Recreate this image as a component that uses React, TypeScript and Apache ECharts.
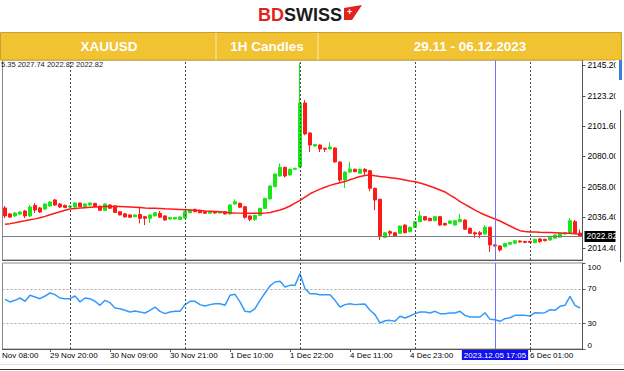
import React, { useEffect, useRef } from "react";
import * as echarts from "echarts";

// Trading sessions (hourly bars, the 00:00 bar is the daily break)
const sessions = [
  { day: "29 Nov", from: 11, to: 23 },
  { day: "30 Nov", from: 1, to: 23 },
  { day: "1 Dec", from: 1, to: 23 },
  { day: "4 Dec", from: 1, to: 23 },
  { day: "5 Dec", from: 1, to: 23 },
  { day: "6 Dec", from: 1, to: 11 },
];
const categories: string[] = [];
sessions.forEach((s) => {
  for (let h = s.from; h <= s.to; h++) categories.push(`${s.day} ${h < 10 ? "0" + h : h}:00`);
});

const timeLabelIdx = [9, 21, 33, 45, 57, 69, 81, 105];
const daySeparatorIdx = [13, 36, 59, 82, 105];
const crosshairIdx = 98;
const crosshairLabel = "2023.12.05 17:05";
const visibleFirstLabel = "Nov 08:00";
const infoText = "5.35 2027.74 2022.82 2022.82";

const priceTicks = [2014.4, 2036.4, 2058.0, 2080.0, 2101.6, 2123.2, 2145.2];
const rsiTicks = [0, 30, 70, 100];
const rsiLevels = [70, 30];
const lastPrice = 2022.82;

// [open, close, low, high]
const candles: number[][] = [
  [2043.2, 2037.5, 2036.0, 2044.6], [2038.9, 2036.7, 2036.0, 2039.6], [2037.5, 2039.6, 2036.7, 2040.3],
  [2038.9, 2040.3, 2038.2, 2041.0], [2041.0, 2037.5, 2036.0, 2041.7], [2037.5, 2043.9, 2036.7, 2045.3],
  [2045.0, 2041.7, 2039.6, 2046.7], [2043.2, 2040.3, 2039.6, 2043.9], [2042.4, 2046.0, 2041.7, 2046.7],
  [2044.6, 2047.4, 2044.0, 2048.2], [2048.9, 2045.3, 2044.6, 2049.6], [2046.0, 2043.9, 2043.2, 2046.7],
  [2045.0, 2043.6, 2043.2, 2045.6], [2043.9, 2044.6, 2043.4, 2045.3], [2043.9, 2046.7, 2043.5, 2047.4],
  [2046.7, 2044.2, 2043.9, 2047.0], [2044.2, 2046.0, 2043.9, 2046.7], [2045.3, 2046.7, 2044.9, 2047.2],
  [2046.4, 2044.2, 2043.9, 2046.9], [2044.4, 2041.5, 2041.0, 2044.9], [2041.5, 2046.0, 2041.0, 2046.5],
  [2045.3, 2043.0, 2042.6, 2045.8], [2044.6, 2040.0, 2039.6, 2045.0], [2040.5, 2038.2, 2037.9, 2041.0],
  [2039.0, 2036.8, 2036.4, 2039.4], [2038.2, 2036.6, 2036.0, 2038.6], [2037.0, 2038.2, 2036.6, 2038.6],
  [2038.5, 2035.8, 2032.2, 2044.1], [2037.0, 2035.8, 2031.0, 2037.4], [2035.8, 2038.2, 2032.5, 2038.6],
  [2037.5, 2039.8, 2037.2, 2040.3], [2039.4, 2036.6, 2036.2, 2041.0], [2037.5, 2034.6, 2034.2, 2038.0],
  [2035.3, 2036.4, 2035.0, 2036.8], [2035.3, 2036.4, 2035.0, 2036.8], [2035.0, 2036.8, 2034.6, 2037.2],
  [2036.0, 2040.5, 2035.6, 2041.0], [2039.8, 2041.7, 2039.4, 2042.2], [2042.2, 2040.5, 2040.2, 2042.6],
  [2041.5, 2039.8, 2039.4, 2041.9], [2040.5, 2039.4, 2039.0, 2040.9], [2039.4, 2040.5, 2039.0, 2040.9],
  [2040.3, 2039.6, 2039.2, 2040.7], [2039.6, 2040.3, 2039.2, 2040.7], [2040.5, 2038.9, 2038.5, 2040.9],
  [2038.9, 2045.3, 2038.5, 2046.0], [2046.0, 2047.6, 2045.6, 2049.4], [2046.5, 2043.7, 2043.3, 2047.0],
  [2044.1, 2036.5, 2035.5, 2044.6], [2037.5, 2035.1, 2033.7, 2037.9], [2035.1, 2037.9, 2034.0, 2038.3],
  [2037.9, 2042.9, 2037.5, 2043.3], [2042.9, 2050.0, 2042.5, 2050.4], [2049.6, 2058.9, 2049.2, 2059.3],
  [2058.4, 2067.4, 2058.0, 2067.8], [2066.0, 2072.2, 2065.6, 2074.9], [2072.2, 2066.0, 2065.0, 2072.6],
  [2066.7, 2070.8, 2066.3, 2071.2], [2070.8, 2071.5, 2070.4, 2071.9], [2072.4, 2118.1, 2071.8, 2146.5],
  [2118.1, 2096.0, 2095.0, 2120.2], [2096.7, 2088.1, 2083.1, 2097.1], [2087.4, 2088.5, 2087.0, 2089.0],
  [2088.1, 2085.3, 2083.1, 2088.5], [2085.8, 2085.1, 2083.1, 2086.2], [2085.3, 2086.7, 2084.9, 2090.1],
  [2086.0, 2076.0, 2075.6, 2086.4], [2076.0, 2063.1, 2061.7, 2076.4], [2063.1, 2068.8, 2057.4, 2069.2],
  [2068.8, 2071.0, 2068.4, 2076.0], [2070.8, 2069.1, 2068.7, 2071.2], [2068.0, 2070.8, 2067.6, 2071.2],
  [2070.8, 2069.1, 2066.7, 2071.5], [2069.8, 2057.2, 2055.1, 2070.2], [2057.2, 2048.9, 2041.7, 2057.6],
  [2049.4, 2022.7, 2020.3, 2049.8], [2022.2, 2025.5, 2021.8, 2025.9], [2026.3, 2025.1, 2022.9, 2027.3],
  [2025.5, 2023.2, 2022.8, 2025.9], [2025.1, 2030.3, 2024.7, 2030.7], [2031.0, 2025.5, 2025.1, 2031.4],
  [2026.3, 2029.4, 2025.9, 2029.8], [2029.4, 2033.4, 2029.0, 2033.8], [2033.4, 2037.5, 2033.0, 2041.0],
  [2037.0, 2034.6, 2034.2, 2037.4], [2035.8, 2034.1, 2033.7, 2036.2], [2034.1, 2037.0, 2033.7, 2037.4],
  [2037.0, 2031.0, 2030.6, 2037.4], [2032.2, 2031.0, 2030.6, 2032.6], [2032.2, 2033.9, 2031.8, 2034.3],
  [2031.0, 2034.1, 2030.6, 2034.5], [2033.4, 2035.1, 2033.0, 2039.0], [2034.6, 2028.0, 2027.6, 2035.0],
  [2028.7, 2025.1, 2024.7, 2029.1], [2025.5, 2024.6, 2021.8, 2026.3], [2025.5, 2024.3, 2021.6, 2026.7],
  [2024.6, 2029.4, 2024.2, 2031.0], [2029.4, 2016.8, 2011.8, 2029.8], [2016.8, 2016.1, 2015.7, 2017.2],
  [2016.1, 2013.2, 2012.0, 2016.5], [2015.5, 2017.9, 2015.1, 2018.3], [2017.3, 2018.5, 2016.9, 2018.9],
  [2018.0, 2019.8, 2017.6, 2020.2], [2019.6, 2018.9, 2018.5, 2020.0], [2019.3, 2018.6, 2018.2, 2019.7],
  [2019.3, 2018.6, 2018.2, 2019.7], [2018.4, 2020.8, 2018.0, 2021.2], [2021.0, 2019.3, 2018.2, 2021.8],
  [2020.8, 2019.8, 2019.4, 2021.2], [2020.3, 2022.3, 2019.9, 2022.7], [2021.6, 2023.9, 2021.2, 2024.3],
  [2022.3, 2025.1, 2021.9, 2025.5], [2024.6, 2025.5, 2024.2, 2025.9], [2025.1, 2034.1, 2024.7, 2036.0],
  [2033.4, 2025.1, 2024.7, 2034.6], [2025.35, 2022.82, 2022.82, 2027.74],
];

const movingAverage = [
  2031.5, 2032.0, 2032.6, 2033.4, 2034.0, 2034.7, 2035.4, 2036.2, 2037.2, 2038.3,
  2039.4, 2040.5, 2041.5, 2042.4, 2042.8, 2043.1, 2043.4, 2043.7, 2043.9, 2044.0,
  2044.2, 2044.3, 2044.4, 2044.3, 2044.1, 2043.9, 2043.7, 2043.5, 2043.2, 2043.0,
  2042.9, 2042.8, 2042.6, 2042.5, 2042.3, 2042.1, 2041.9, 2041.7, 2041.5, 2041.3,
  2041.0, 2040.8, 2040.6, 2040.4, 2040.2, 2039.8, 2039.6, 2039.5, 2039.4, 2039.4,
  2039.4, 2039.4, 2039.5, 2040.0, 2040.8, 2041.7, 2043.0, 2044.6, 2046.6, 2048.6,
  2051.0, 2053.3, 2055.0, 2056.6, 2058.0, 2059.3, 2060.3, 2061.2, 2062.0, 2063.3,
  2064.5, 2065.6, 2066.4, 2066.7, 2066.1, 2065.6, 2065.2, 2064.8, 2064.4, 2063.8,
  2063.2, 2062.5, 2061.9, 2061.0, 2059.9, 2058.7, 2057.4, 2056.0, 2054.6, 2052.4,
  2050.3, 2047.7, 2045.7, 2043.7, 2041.7, 2039.8, 2038.2, 2036.7, 2035.3, 2033.9,
  2032.1, 2030.3, 2028.5, 2027.0, 2026.4, 2026.1, 2026.0, 2025.8, 2025.7, 2025.6,
  2025.5, 2025.4, 2025.2, 2025.1, 2024.7, 2024.4,
];

const rsi = [
  57.8, 54.7, 56.6, 59.3, 55.5, 62.4, 60.5, 58.5, 61.6, 65.1,
  63.2, 59.3, 58.5, 58.5, 61.6, 54.7, 59.3, 58.5, 55.5, 50.8,
  56.6, 53.9, 47.7, 46.9, 45.0, 43.0, 44.2, 43.0, 41.9, 45.0,
  48.8, 43.8, 41.1, 43.0, 43.8, 43.8, 51.6, 55.5, 55.5, 51.6,
  50.0, 51.6, 52.7, 52.7, 50.8, 62.4, 63.6, 54.7, 43.8, 43.0,
  46.9, 56.6, 65.1, 73.3, 77.9, 78.7, 72.1, 74.0, 74.0, 87.6,
  70.2, 64.3, 64.3, 63.1, 63.1, 63.1, 56.6, 48.8, 51.6, 52.7,
  51.6, 52.0, 52.4, 45.0, 39.9, 30.2, 32.9, 33.3, 32.2, 38.0,
  36.0, 38.4, 41.1, 43.0, 43.0, 41.9, 43.8, 41.1, 41.1, 41.9,
  41.9, 43.8, 39.1, 37.2, 37.2, 37.2, 42.2, 34.5, 34.1, 32.2,
  35.3, 36.4, 39.1, 39.1, 39.1, 38.4, 42.2, 41.9, 42.2, 45.7,
  45.0, 49.6, 50.8, 61.3, 50.8, 47.7,
];

const FONT = '"Liberation Sans", Arial, sans-serif';
const UP = "#19e619";
const DOWN = "#ff1a1a";

export default function App() {
  const ref = useRef<HTMLDivElement>(null);
  useEffect(() => {
    document.body.style.margin = "0";
    if (!ref.current) return;
    const chart = echarts.init(ref.current, null, { renderer: "svg" });
    const showLabel = (i: number) => timeLabelIdx.includes(i);
    const sepLines = daySeparatorIdx.map((i) => ({
      xAxis: categories[i],
      lineStyle: { color: "#4a4a4a", width: 1, type: [2, 2] },
      label: { show: false },
    }));
    const option: any = {
      animation: false,
      backgroundColor: "#ffffff",
      textStyle: { fontFamily: FONT },
      grid: [
        { left: 2.5, right: 41.5, top: 60, height: 200, show: true, borderColor: "#8a8a8a", borderWidth: 1 },
        { left: 2.5, right: 41.5, top: 263, height: 86, show: true, borderColor: "#8a8a8a", borderWidth: 1 },
      ],
      xAxis: [
        {
          type: "category", gridIndex: 0, data: categories,
          axisLine: { show: true, lineStyle: { color: "#555" } },
          axisTick: { show: false }, axisLabel: { show: false }, splitLine: { show: false },
        },
        {
          type: "category", gridIndex: 1, data: categories,
          axisLine: { show: true, lineStyle: { color: "#555" } },
          axisTick: { show: true, interval: showLabel, alignWithLabel: true, length: 3, lineStyle: { color: "#555" } },
          axisLabel: { interval: showLabel, align: "left", fontSize: 8, color: "#000", margin: 2, fontFamily: FONT },
          splitLine: { show: false },
        },
      ],
      yAxis: [
        {
          type: "value", gridIndex: 0, position: "right", min: 2006.05, max: 2148.77,
          axisLine: { show: true, lineStyle: { color: "#555" } },
          axisTick: { show: true, customValues: priceTicks, length: 3, lineStyle: { color: "#555" } },
          axisLabel: { customValues: priceTicks, formatter: (v: number) => v.toFixed(2), fontSize: 8.5, color: "#000", margin: 5, fontFamily: FONT },
          splitLine: { show: false },
        },
        {
          type: "value", gridIndex: 1, position: "right", min: 0, max: 100,
          axisLine: { show: true, lineStyle: { color: "#555" } },
          axisTick: { show: true, customValues: rsiTicks, length: 3, lineStyle: { color: "#555" } },
          axisLabel: {
            customValues: rsiTicks, fontSize: 8, color: "#000", margin: 5, fontFamily: FONT,
            verticalAlignMinLabel: "bottom", verticalAlignMaxLabel: "top",
          },
          splitLine: { show: false },
        },
      ],
      series: [
        {
          type: "candlestick", xAxisIndex: 0, yAxisIndex: 0, data: candles, barWidth: 3,
          itemStyle: { color: UP, color0: DOWN, borderColor: UP, borderColor0: DOWN, borderWidth: 1 },
          markLine: {
            silent: true, symbol: ["none", "none"], animation: false,
            data: [
              {
                yAxis: lastPrice,
                lineStyle: { color: "#7a7a7a", width: 1, type: "solid" },
                label: {
                  show: true, position: "end", formatter: lastPrice.toFixed(2), distance: 2,
                  backgroundColor: "#000", color: "#fff", fontSize: 8.5, padding: [1, 2, 1, 2], fontFamily: FONT,
                },
              },
              ...sepLines,
              { xAxis: categories[crosshairIdx], lineStyle: { color: "#7070ff", width: 1, type: "solid" }, label: { show: false } },
            ],
          },
        },
        {
          type: "line", xAxisIndex: 0, yAxisIndex: 0, data: movingAverage, symbol: "none",
          lineStyle: { color: "#ff1a1a", width: 1.5 }, z: 3,
        },
        {
          type: "line", xAxisIndex: 1, yAxisIndex: 1, data: rsi, symbol: "none",
          lineStyle: { color: "#3399ff", width: 1.5 },
          markLine: {
            silent: true, symbol: ["none", "none"], animation: false,
            data: [
              ...rsiLevels.map((v) => ({ yAxis: v, lineStyle: { color: "#a8a8a8", width: 1, type: [2, 2] }, label: { show: false } })),
              ...sepLines,
              {
                xAxis: categories[crosshairIdx],
                lineStyle: { color: "#7070ff", width: 1, type: "solid" },
                label: {
                  show: true, position: "start", formatter: crosshairLabel, distance: 1,
                  backgroundColor: "#1010f0", color: "#fff", fontSize: 8, padding: [1, 2, 1, 2], fontFamily: FONT,
                },
              },
            ],
          },
        },
      ],
      graphic: [
        { type: "text", x: 1, y: 60.5, z: 1, style: { text: infoText, font: `7.5px ${FONT}`, fill: "#222" } },
        { type: "text", x: 2, y: 351, z: 1, style: { text: visibleFirstLabel, font: `8px ${FONT}`, fill: "#000" } },
        // header bar
        { type: "rect", z: 20, shape: { x: 0.5, y: 32.5, width: 621, height: 27.5 }, style: { fill: "#f1c232", stroke: "#caa12c", lineWidth: 1 } },
        { type: "line", z: 21, shape: { x1: 216, y1: 33, x2: 216, y2: 60 }, style: { stroke: "#f9dc85", lineWidth: 1.5 } },
        { type: "line", z: 21, shape: { x1: 318, y1: 33, x2: 318, y2: 60 }, style: { stroke: "#f9dc85", lineWidth: 1.5 } },
        { type: "text", z: 22, x: 109, y: 46.5, style: { text: "XAUUSD", font: `bold 13.5px ${FONT}`, fill: "#ffffff", textAlign: "center", textVerticalAlign: "middle" } },
        { type: "text", z: 22, x: 267, y: 46.5, style: { text: "1H Candles", font: `bold 13.5px ${FONT}`, fill: "#ffffff", textAlign: "center", textVerticalAlign: "middle" } },
        { type: "text", z: 22, x: 470, y: 46.5, style: { text: "29.11 - 06.12.2023", font: `bold 13.5px ${FONT}`, fill: "#ffffff", textAlign: "center", textVerticalAlign: "middle" } },
        // logo
        { type: "text", z: 22, x: 258, y: 6, style: { text: "BD", font: `bold 18px ${FONT}`, fill: "#e3211c" } },
        { type: "text", z: 22, x: 284, y: 6, style: { text: "SWISS", font: `bold 18px ${FONT}`, fill: "#1c1c1c" } },
        { type: "polygon", z: 22, shape: { points: [[344, 8], [362, 5], [352, 20], [344, 20]] }, style: { fill: "#e3211c" } },
        { type: "text", z: 23, x: 349.5, y: 12, style: { text: "+", font: `bold 9px ${FONT}`, fill: "#ffffff", textAlign: "center", textVerticalAlign: "middle" } },
        // right edge strip
        { type: "rect", z: 30, shape: { x: 615.5, y: 60, width: 9, height: 292 }, style: { fill: "#ffffff" } },
        { type: "rect", z: 31, shape: { x: 619, y: 60, width: 3, height: 20 }, style: { fill: "#3d7ee0" } },
        { type: "line", z: 31, shape: { x1: 620.5, y1: 110, x2: 620.5, y2: 262 }, style: { stroke: "#555", lineWidth: 1 } },
        // bottom frame
        { type: "line", z: 5, shape: { x1: 0, y1: 364.5, x2: 624, y2: 364.5 }, style: { stroke: "#e2e2e2", lineWidth: 1 } },
        { type: "line", z: 5, shape: { x1: 0, y1: 369.5, x2: 624, y2: 369.5 }, style: { stroke: "#333", lineWidth: 1 } },
      ],
    };
    chart.setOption(option);
    return () => chart.dispose();
  }, []);
  return <div ref={ref} style={{ width: 624, height: 371 }} />;
}
